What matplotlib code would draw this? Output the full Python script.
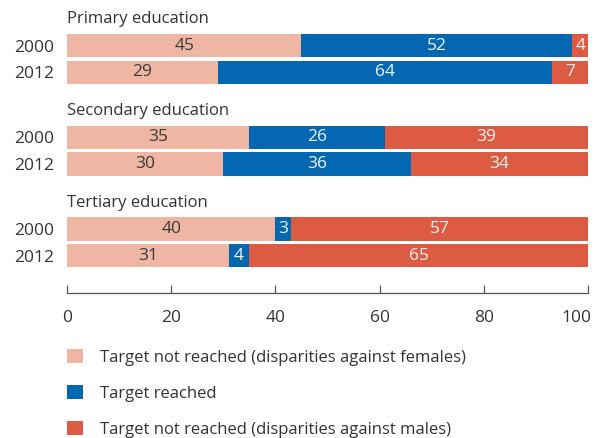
import numpy as np
import matplotlib.pyplot as plt
from matplotlib.patches import Patch
from matplotlib.transforms import ScaledTranslation

plt.rcParams['font.family'] = ['Open Sans', 'DejaVu Sans']

LEVELS = ['Primary education', 'Secondary education', 'Tertiary education']
YEARS = ['2000', '2012']

# shares per level, rows = years (2000, 2012)
females = [[45, 29], [35, 30], [40, 31]]
reached = [[52, 64], [26, 36], [3, 4]]
males = [[4, 7], [39, 34], [57, 65]]

SERIES = ['Target not reached (disparities against females)',
          'Target reached',
          'Target not reached (disparities against males)']
COLORS = ['#efb6a3', '#0467b1', '#dd5a43']
TEXT_COLORS = ['#3a3a3a', '#f4f4f4', '#f4f4f4']

GROUP_STEP = 3.43
BAR_H = 0.876
FS = 12
FS_NUM = 12.5

fig = plt.figure(figsize=(5.97, 4.38), dpi=100)
ax = fig.add_axes([67 / 597, 145 / 438, 521 / 597, 293 / 438])

ypos = []
for g, level in enumerate(LEVELS):
    left = np.zeros(2)
    ys = g * GROUP_STEP + np.arange(2)
    ypos.extend(ys)
    for s, vals in enumerate([females[g], reached[g], males[g]]):
        vals = np.array(vals, dtype=float)
        ax.barh(ys, vals, left=left, height=BAR_H, color=COLORS[s], linewidth=0)
        for y, l, v in zip(ys, left, vals):
            ax.text(min(l + v / 2, (l + 100) / 2), y, f'{int(v)}', ha='center', va='center',
                    fontsize=FS_NUM, color=TEXT_COLORS[s])
        left += vals
    ax.text(0, ys[0] - 0.99, level, ha='left', va='center', fontsize=FS, color='#333333')

ax.set_xlim(0, 100)
ax.set_ylim(9.258, -1.715)
ax.set_xticks([0, 20, 40, 60, 80, 100])
ax.set_yticks(ypos)
ax.set_yticklabels(YEARS * len(LEVELS))
ax.tick_params(axis='y', length=0, pad=9, labelsize=FS_NUM, labelcolor='#333333')
ax.tick_params(axis='x', direction='in', length=6, width=0.9, color='#555555',
               pad=12, labelsize=FS_NUM, labelcolor='#333333')
# keep the last tick label inside the canvas
last = ax.get_xticklabels()[-1]
last.set_transform(last.get_transform() + ScaledTranslation(-12 / 100, 0, fig.dpi_scale_trans))
for side in ['top', 'right', 'left']:
    ax.spines[side].set_visible(False)
ax.spines['bottom'].set_color('#555555')
ax.spines['bottom'].set_linewidth(0.9)

handles = [Patch(facecolor=c, edgecolor='none') for c in COLORS]
fig.legend(handles, SERIES, loc='upper left', bbox_to_anchor=(52 / 597, 1 - 334 / 438),
           frameon=False, fontsize=FS, handlelength=0.96, handleheight=0.96,
           handletextpad=1.02, labelspacing=1.14, labelcolor='#333333')

fig.savefig('out.png', dpi=100)
